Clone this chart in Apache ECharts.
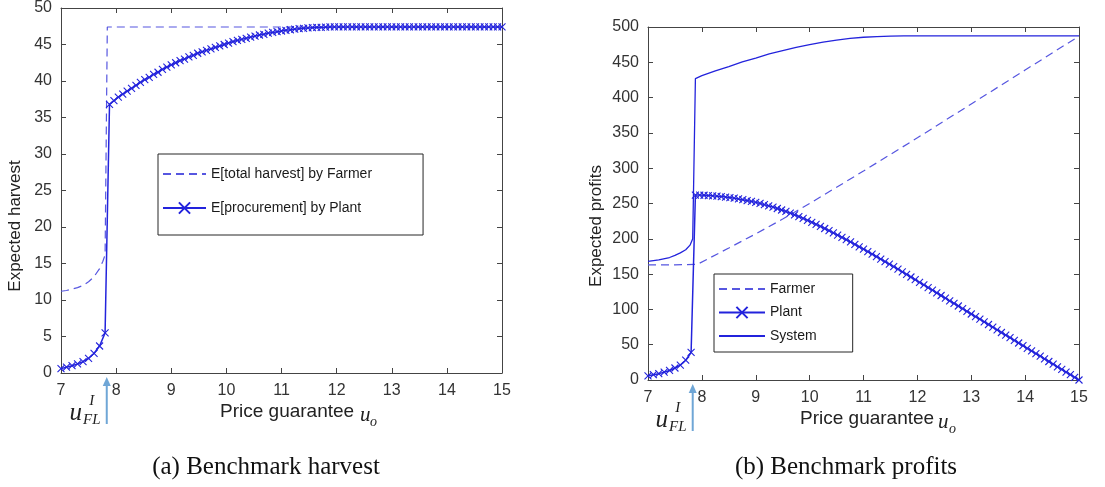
<!DOCTYPE html>
<html lang="en">
<head>
<meta charset="UTF-8">
<title>Benchmark harvest and profits</title>
<script src="https://cdn.jsdelivr.net/npm/echarts@6.0.0/dist/echarts.min.js"></script>
<style>
    html, body {margin: 0; padding: 0; background: #fff;}
    #main {width: 1105px; height: 487px;}
</style>
</head>
<body>
<div id="main"></div>
<script>
    // price guarantee grid: low branch (below u_FL) and high branch (above it)
    var xLow = [7.0, 7.1, 7.2, 7.3, 7.4, 7.5, 7.6, 7.7, 7.8];
    var xHigh = [];
    for (var i = 0; i < 90; i++) xHigh.push(Math.round((7.88 + 0.08 * i) * 100) / 100);
    var uFL = 7.83;

    // (a) expected harvest
    var harvestFarmerX = [7.0, 7.1, 7.2, 7.3, 7.4, 7.5, 7.6, 7.7, 7.76, 7.8, 7.84, 15.0];
    var harvestFarmerY = [11.2, 11.3, 11.5, 11.7, 12.0, 12.5, 13.2, 14.3, 15.3, 16.2, 47.4, 47.4];
    var harvestPlantLow = [0.6, 0.8, 1.0, 1.25, 1.55, 2.0, 2.7, 3.7, 5.5];
    var harvestPlantHigh = [
        36.8, 37.3, 37.8, 38.2, 38.6, 39.0, 39.4, 39.8, 40.2, 40.5,
        40.9, 41.2, 41.6, 41.9, 42.2, 42.5, 42.8, 43.0, 43.3, 43.5,
        43.8, 44.0, 44.2, 44.4, 44.6, 44.8, 45.0, 45.2, 45.4, 45.55,
        45.7, 45.85, 46.0, 46.15, 46.3, 46.4, 46.55, 46.65, 46.75, 46.85,
        46.95, 47.02, 47.1, 47.16, 47.22, 47.27, 47.31, 47.34, 47.36, 47.38,
        47.4, 47.4, 47.4, 47.4, 47.4, 47.4, 47.4, 47.4, 47.4, 47.4,
        47.4, 47.4, 47.4, 47.4, 47.4, 47.4, 47.4, 47.4, 47.4, 47.4,
        47.4, 47.4, 47.4, 47.4, 47.4, 47.4, 47.4, 47.4, 47.4, 47.4,
        47.4, 47.4, 47.4, 47.4, 47.4, 47.4, 47.4, 47.4, 47.4, 47.4
    ];

    // (b) expected profits
    var profitFarmerX = [7.0, 7.5, 7.92, 8.5, 9.0, 9.5, 10.0, 10.5, 11.0, 12.0, 13.0, 14.0, 15.0];
    var profitFarmerY = [163, 163, 164, 187, 207, 228, 250, 273, 296, 343, 391, 439, 487];
    var profitPlantLow = [6, 7.5, 9, 11, 13.5, 17, 21, 28, 39];
    var profitPlantHigh = [
        262.0, 262.0, 261.7, 261.3, 260.9, 260.4, 259.8, 259.1, 258.4, 257.5,
        256.5, 255.4, 254.2, 252.9, 251.6, 250.1, 248.4, 246.7, 244.9, 242.9,
        240.8, 238.7, 236.4, 234.0, 231.5, 228.9, 226.2, 223.4, 220.5, 217.6,
        214.6, 211.6, 208.4, 205.3, 202.0, 198.8, 195.5, 192.1, 188.7, 185.3,
        181.9, 178.4, 174.9, 171.3, 167.8, 164.2, 160.6, 157.0, 153.3, 149.6,
        145.9, 142.2, 138.4, 134.7, 131.0, 127.2, 123.5, 119.7, 116.0, 112.2,
        108.5, 104.8, 101.0, 97.3, 93.5, 89.8, 86.1, 82.3, 78.6, 74.8,
        71.1, 67.3, 63.6, 59.9, 56.1, 52.4, 48.6, 44.9, 41.2, 37.4,
        33.7, 29.9, 26.2, 22.5, 18.7, 15.0, 11.2, 7.5, 3.7, 0
    ];
    var systemX = [7.0, 7.2, 7.4, 7.5, 7.6, 7.7, 7.78, 7.83, 7.88, 8.0, 8.25, 8.5, 8.75, 9.0, 9.25, 9.5, 9.75,
        10.0, 10.25, 10.5, 10.75, 11.0, 11.25, 11.5, 11.75, 12.0, 15.0];
    var systemY = [168, 170, 173.5, 176.5, 180, 184.5, 191, 200, 427, 431, 438, 444, 450.5, 456, 462, 466.5, 471,
        475, 478.5, 481.5, 484, 485.5, 486.5, 487, 487.3, 487.5, 487.5];

    var xTicks = [7, 15, 1];
    var harvestTicks = [0, 50, 5];
    var profitTicks = [0, 500, 50];

    var blue = '#2323dc';
    var dashBlue = '#5656e0';
    var axisColor = '#444';
    var arrowColor = '#6fa6d6';
    var crossMark = 'path://M0,0L10,10M10,0L0,10';

    function pairs(xs, ys) {
        var out = [];
        for (var i = 0; i < ys.length; i++) out.push([xs[i], ys[i]]);
        return out;
    }

    function xAx(grid, pos, labels) {
        return {
            type: 'value', gridIndex: grid, position: pos,
            min: xTicks[0], max: xTicks[1], interval: xTicks[2],
            axisLine: {show: true, onZero: false, lineStyle: {color: axisColor, width: 1}},
            axisTick: {show: true, inside: true, length: 5, lineStyle: {color: axisColor}},
            axisLabel: {show: labels, margin: 10, color: '#333', fontSize: 16, fontFamily: 'Liberation Sans'},
            splitLine: {show: false}
        };
    }

    function yAx(grid, pos, labels, t) {
        return {
            type: 'value', gridIndex: grid, position: pos,
            min: t[0], max: t[1], interval: t[2],
            axisLine: {show: true, onZero: false, lineStyle: {color: axisColor, width: 1}},
            axisTick: {show: true, inside: true, length: 5, lineStyle: {color: axisColor}},
            axisLabel: {show: labels, margin: 9, color: '#333', fontSize: 16, fontFamily: 'Liberation Sans'},
            splitLine: {show: false}
        };
    }

    function dashed(name, ax, data) {
        return {
            name: name, type: 'line', xAxisIndex: ax, yAxisIndex: ax, data: data,
            symbol: 'none', silent: true, z: 2,
            lineStyle: {color: dashBlue, width: 1.2, type: [8, 5]},
            itemStyle: {color: dashBlue}
        };
    }

    function marked(name, ax, data) {
        return {
            name: name, type: 'line', xAxisIndex: ax, yAxisIndex: ax, data: data,
            symbol: crossMark, symbolSize: 7, showAllSymbol: true, silent: true, z: 3,
            lineStyle: {color: blue, width: 1.5},
            itemStyle: {color: blue, borderColor: blue, borderWidth: 1.1}
        };
    }

    // line-only series get no dot in the legend
    function lineOnly(name) {
        return {name: name, itemStyle: {opacity: 0}};
    }

    function legendAt(names, left, top, iw, gap, pad) {
        return {
            data: names, orient: 'vertical', left: left, top: top,
            itemWidth: iw, itemHeight: 14, itemGap: gap, padding: pad,
            borderColor: '#262626', borderWidth: 1, backgroundColor: '#fff',
            selectedMode: false,
            textStyle: {fontFamily: 'Liberation Sans', fontSize: 14, color: '#1a1a1a'}
        };
    }

    var chart = echarts.init(document.getElementById('main'));
    chart.setOption({
        animation: false,
        backgroundColor: '#fff',
        grid: [
            {left: 61, top: 7, width: 441, height: 366},
            {left: 648, top: 27, width: 431, height: 353}
        ],
        xAxis: [xAx(0, 'bottom', true), xAx(0, 'top', false), xAx(1, 'bottom', true), xAx(1, 'top', false)],
        yAxis: [
            yAx(0, 'left', true, harvestTicks), yAx(0, 'right', false, harvestTicks),
            yAx(1, 'left', true, profitTicks), yAx(1, 'right', false, profitTicks)
        ],
        legend: [
            legendAt([lineOnly('E[total harvest] by Farmer'), 'E[procurement] by Plant'], 158, 154, 43, 20, [13, 51, 20, 4]),
            legendAt([lineOnly('Farmer'), 'Plant', lineOnly('System')], 714, 274, 46, 9.5, [8, 36, 9, 4])
        ],
        series: [
            dashed('E[total harvest] by Farmer', 0, pairs(harvestFarmerX, harvestFarmerY)),
            marked('E[procurement] by Plant', 0, pairs(xLow.concat(xHigh), harvestPlantLow.concat(harvestPlantHigh))),
            dashed('Farmer', 2, pairs(profitFarmerX, profitFarmerY)),
            marked('Plant', 2, pairs(xLow.concat(xHigh), profitPlantLow.concat(profitPlantHigh))),
            {
                name: 'System', type: 'line', xAxisIndex: 2, yAxisIndex: 2,
                data: pairs(systemX, systemY), symbol: 'none', silent: true, z: 2,
                lineStyle: {color: blue, width: 1.3},
                itemStyle: {color: blue}
            }
        ]
    });

    // annotations: u_FL arrows, axis names, captions
    var ink = '#222';
    var g = [];
    [0, 1].forEach(function (gi) {
        var p = chart.convertToPixel({xAxisIndex: gi * 2, yAxisIndex: gi * 2}, [uFL, 0]);
        var ax = p[0], ay = p[1];
        g.push({type: 'line', shape: {x1: ax, y1: ay + 12, x2: ax, y2: ay + 51},
            style: {stroke: arrowColor, lineWidth: 2}});
        g.push({type: 'polygon', shape: {points: [[ax - 4, ay + 13], [ax + 4, ay + 13], [ax, ay + 4]]},
            style: {fill: arrowColor}});
        g.push({type: 'text', x: ax - 31, y: ay + 40, style: {text: 'u', fill: ink, align: 'center',
            verticalAlign: 'middle', font: 'italic 25px "Liberation Serif"'}});
        g.push({type: 'text', x: ax - 15, y: ay + 28, style: {text: 'I', fill: ink, align: 'center',
            verticalAlign: 'middle', font: 'italic 15px "Liberation Serif"'}});
        g.push({type: 'text', x: ax - 15, y: ay + 47, style: {text: 'FL', fill: ink, align: 'center',
            verticalAlign: 'middle', font: 'italic 15px "Liberation Serif"'}});
    });

    var sans = '"Liberation Sans"';
    g.push({type: 'text', x: 15, y: 226, rotation: Math.PI / 2, style: {text: 'Expected harvest', fill: ink,
        align: 'center', verticalAlign: 'middle', font: '17px ' + sans}});
    g.push({type: 'text', x: 596, y: 226, rotation: Math.PI / 2, style: {text: 'Expected profits', fill: ink,
        align: 'center', verticalAlign: 'middle', font: '17px ' + sans}});

    [[220, 412, 360, 415, 370, 422], [800, 419, 938, 422, 949, 429]].forEach(function (q) {
        g.push({type: 'text', x: q[0], y: q[1], style: {text: 'Price guarantee', fill: ink,
            align: 'left', verticalAlign: 'middle', font: '19px ' + sans}});
        g.push({type: 'text', x: q[2], y: q[3], style: {text: 'u', fill: ink,
            align: 'left', verticalAlign: 'middle', font: 'italic 21px "Liberation Serif"'}});
        g.push({type: 'text', x: q[4], y: q[5], style: {text: 'o', fill: ink,
            align: 'left', verticalAlign: 'middle', font: 'italic 14px "Liberation Serif"'}});
    });

    g.push({type: 'text', x: 266, y: 467, style: {text: '(a) Benchmark harvest', fill: '#111',
        align: 'center', verticalAlign: 'middle', font: '25px "Liberation Serif"'}});
    g.push({type: 'text', x: 846, y: 467, style: {text: '(b) Benchmark profits', fill: '#111',
        align: 'center', verticalAlign: 'middle', font: '25px "Liberation Serif"'}});

    chart.setOption({graphic: g});
</script>
</body>
</html>
